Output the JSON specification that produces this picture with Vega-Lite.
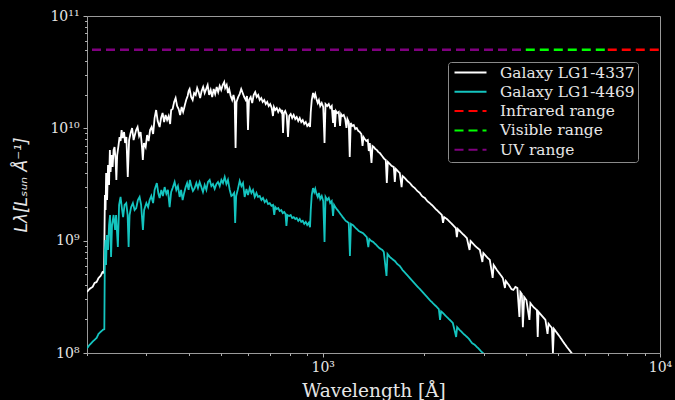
{
  "$schema": "https://vega.github.io/schema/vega-lite/v6.json",
  "width": 573,
  "height": 337,
  "autosize": {"type": "none"},
  "padding": {"left": 87, "top": 16, "right": 15, "bottom": 47},
  "background": "#000000",
  "datasets": {
    "g4337": [
      {"w":200,"L":3.49e8},{"w":203.5,"L":3.72e8},{"w":207.8,"L":3.87e8},{"w":210.6,"L":4.20e8},{"w":213.5,"L":4.28e8},{"w":216.4,"L":4.65e8},{"w":219.4,"L":4.85e8},{"w":222.4,"L":5.26e8},{"w":224.7,"L":5.16e8},{"w":226.0,"L":2.55e9},{"w":227.0,"L":1.875e9},{"w":227.9,"L":4.00e9},{"w":229.4,"L":2.30e9},{"w":230.9,"L":4.72e9},{"w":232.5,"L":3.13e9},{"w":233.8,"L":6.41e9},{"w":234.9,"L":4.09e9},{"w":236.5,"L":5.79e9},{"w":238.2,"L":4.53e9},{"w":239.8,"L":6.41e9},{"w":241.4,"L":6.82e9},{"w":243.1,"L":5.23e9},{"w":244.4,"L":3.47e9},{"w":245.8,"L":5.79e9},{"w":248.1,"L":7.11e9},{"w":249.8,"L":8.37e9},{"w":251.5,"L":7.71e9},{"w":253.3,"L":9.66e9},{"w":255.0,"L":8.20e9},{"w":257.6,"L":9.27e9},{"w":259.4,"L":7.41e9},{"w":261.7,"L":8.37e9},{"w":264.2,"L":3.69e9},{"w":266.6,"L":7.87e9},{"w":269.4,"L":9.09e9},{"w":272.1,"L":1.007e10},{"w":274.9,"L":7.87e9},{"w":276.8,"L":8.54e9},{"w":279.7,"L":9.66e9},{"w":282.5,"L":1.027e10},{"w":285.4,"L":8.54e9},{"w":288.4,"L":9.28e9},{"w":290.8,"L":7.11e9},{"w":292.8,"L":5.23e9},{"w":295.0,"L":7.40e9},{"w":298.5,"L":6.82e9},{"w":301.5,"L":8.72e9},{"w":304.6,"L":7.71e9},{"w":307.7,"L":9.66e9},{"w":310.9,"L":1.028e10},{"w":314.1,"L":8.90e9},{"w":317.3,"L":1.236e10},{"w":320.6,"L":1.456e10},{"w":324.0,"L":1.162e10},{"w":328.4,"L":1.028e10},{"w":331.7,"L":1.236e10},{"w":335.1,"L":1.369e10},{"w":338.6,"L":1.138e10},{"w":342.1,"L":1.314e10},{"w":345.6,"L":1.186e10},{"w":349.2,"L":1.287e10},{"w":352.8,"L":1.093e10},{"w":355.3,"L":1.456e10},{"w":358.9,"L":1.486e10},{"w":362.5,"L":1.713e10},{"w":366.3,"L":1.862e10},{"w":370.0,"L":1.580e10},{"w":373.9,"L":1.486e10},{"w":377.7,"L":1.314e10},{"w":381.6,"L":1.548e10},{"w":385.5,"L":1.399e10},{"w":389.5,"L":1.580e10},{"w":393.6,"L":1.788e10},{"w":397.6,"L":1.941e10},{"w":400.3,"L":2.149e10},{"w":403.0,"L":2.240e10},{"w":407.2,"L":1.900e10},{"w":411.4,"L":1.788e10},{"w":415.6,"L":2.063e10},{"w":420.0,"L":1.981e10},{"w":424.3,"L":2.286e10},{"w":428.6,"L":2.102e10},{"w":433.0,"L":1.862e10},{"w":437.5,"L":2.149e10},{"w":442.0,"L":2.333e10},{"w":446.6,"L":2.063e10},{"w":451.2,"L":2.240e10},{"w":455.8,"L":2.431e10},{"w":460.5,"L":1.981e10},{"w":465.3,"L":2.194e10},{"w":470.1,"L":1.900e10},{"w":474.9,"L":2.240e10},{"w":479.8,"L":2.022e10},{"w":484.8,"L":2.333e10},{"w":489.8,"L":2.102e10},{"w":494.9,"L":2.381e10},{"w":500.0,"L":2.194e10},{"w":505.1,"L":2.431e10},{"w":510.3,"L":2.585e10},{"w":513.8,"L":2.286e10},{"w":519.0,"L":2.431e10},{"w":523.6,"L":2.063e10},{"w":528.0,"L":2.240e10},{"w":533.4,"L":1.941e10},{"w":538.9,"L":1.788e10},{"w":543.7,"L":1.981e10},{"w":548.2,"L":1.752e10},{"w":551.5,"L":6.68e9},{"w":555.0,"L":1.716e10},{"w":561.5,"L":1.900e10},{"w":567.3,"L":2.022e10},{"w":573.1,"L":2.240e10},{"w":579.0,"L":2.063e10},{"w":584.9,"L":1.900e10},{"w":591.0,"L":1.788e10},{"w":596.2,"L":1.941e10},{"w":600.3,"L":9.66e9},{"w":604.5,"L":1.788e10},{"w":611.5,"L":1.900e10},{"w":617.8,"L":1.681e10},{"w":624.2,"L":1.981e10},{"w":630.6,"L":2.102e10},{"w":637.2,"L":1.900e10},{"w":643.7,"L":1.981e10},{"w":650.4,"L":1.788e10},{"w":657.1,"L":1.862e10},{"w":663.8,"L":1.716e10},{"w":670.7,"L":1.788e10},{"w":677.7,"L":1.646e10},{"w":684.6,"L":1.716e10},{"w":691.7,"L":1.580e10},{"w":698.6,"L":1.646e10},{"w":706.0,"L":1.517e10},{"w":711.7,"L":1.287e10},{"w":716.6,"L":1.548e10},{"w":723.1,"L":1.456e10},{"w":730.5,"L":1.517e10},{"w":738.0,"L":1.399e10},{"w":745.5,"L":1.486e10},{"w":753.3,"L":1.399e10},{"w":758.4,"L":1.456e10},{"w":762.6,"L":9.09e9},{"w":767.3,"L":1.369e10},{"w":774.0,"L":1.427e10},{"w":782.0,"L":1.314e10},{"w":788.9,"L":8.37e9},{"w":795.4,"L":1.287e10},{"w":803.5,"L":1.341e10},{"w":811.8,"L":1.236e10},{"w":820.1,"L":1.314e10},{"w":828.8,"L":1.210e10},{"w":837.2,"L":1.261e10},{"w":846.0,"L":1.162e10},{"w":854.7,"L":1.236e10},{"w":863.5,"L":1.138e10},{"w":872.3,"L":1.186e10},{"w":881.4,"L":1.093e10},{"w":890.5,"L":1.138e10},{"w":899.5,"L":1.049e10},{"w":908.8,"L":1.093e10},{"w":916.9,"L":1.028e10},{"w":921.5,"L":1.399e10},{"w":927.8,"L":1.788e10},{"w":936.0,"L":2.063e10},{"w":943.8,"L":1.900e10},{"w":950.2,"L":2.022e10},{"w":958.0,"L":1.825e10},{"w":966.5,"L":1.681e10},{"w":974.3,"L":1.788e10},{"w":983.1,"L":1.580e10},{"w":993.1,"L":1.681e10},{"w":1003.4,"L":1.548e10},{"w":1012.3,"L":7.40e9},{"w":1019.3,"L":1.646e10},{"w":1031.3,"L":1.580e10},{"w":1042.0,"L":1.646e10},{"w":1052.6,"L":1.517e10},{"w":1063.4,"L":1.580e10},{"w":1073.0,"L":1.116e10},{"w":1080.2,"L":1.456e10},{"w":1087.0,"L":1.028e10},{"w":1094.5,"L":1.427e10},{"w":1104.1,"L":1.369e10},{"w":1115.5,"L":1.399e10},{"w":1125.4,"L":1.049e10},{"w":1133.1,"L":1.341e10},{"w":1142.5,"L":1.287e10},{"w":1154.2,"L":1.314e10},{"w":1166.1,"L":1.210e10},{"w":1175.6,"L":1.007e10},{"w":1183.7,"L":1.210e10},{"w":1194.3,"L":1.138e10},{"w":1202.4,"L":5.56e9},{"w":1210.7,"L":1.116e10},{"w":1223.2,"L":1.049e10},{"w":1235.8,"L":1.070e10},{"w":1248.6,"L":9.86e9},{"w":1261.5,"L":1.007e10},{"w":1274.4,"L":9.47e9},{"w":1287.9,"L":9.28e9},{"w":1301.3,"L":8.90e9},{"w":1312.2,"L":6.96e9},{"w":1321.0,"L":8.37e9},{"w":1332.8,"L":8.03e9},{"w":1346.5,"L":7.71e9},{"w":1360.3,"L":7.87e9},{"w":1369.6,"L":6.28e9},{"w":1379.1,"L":7.40e9},{"w":1395.0,"L":4.91e9},{"w":1404.7,"L":6.96e9},{"w":1417.1,"L":6.82e9},{"w":1431.7,"L":6.55e9},{"w":1446.6,"L":6.41e9},{"w":1461.6,"L":6.16e9},{"w":1476.7,"L":6.03e9},{"w":1491.9,"L":5.79e9},{"w":1507.2,"L":5.56e9},{"w":1522.5,"L":5.34e9},{"w":1537.9,"L":5.23e9},{"w":1548.7,"L":3.26e9},{"w":1559.3,"L":5.02e9},{"w":1580.7,"L":4.82e9},{"w":1602.4,"L":4.62e9},{"w":1624.5,"L":4.53e9},{"w":1635.7,"L":3.33e9},{"w":1646.8,"L":4.35e9},{"w":1669.5,"L":4.17e9},{"w":1692.5,"L":4.00e9},{"w":1713.2,"L":3.00e9},{"w":1725.3,"L":3.76e9},{"w":1751.2,"L":3.61e9},{"w":1781.3,"L":3.40e9},{"w":1812.5,"L":3.26e9},{"w":1843.4,"L":3.06e9},{"w":1875.0,"L":2.94e9},{"w":1907.3,"L":2.77e9},{"w":1940.5,"L":2.66e9},{"w":1966.9,"L":2.50e9},{"w":2008.1,"L":2.40e9},{"w":2042.3,"L":2.25e9},{"w":2077.7,"L":2.16e9},{"w":2120.4,"L":2.04e9},{"w":2164.2,"L":1.91e9},{"w":2209.2,"L":1.80e9},{"w":2254.8,"L":1.692e9},{"w":2273.6,"L":1.44e9},{"w":2290.3,"L":1.62e9},{"w":2333.4,"L":1.56e9},{"w":2381.4,"L":1.47e9},{"w":2430.8,"L":1.379e9},{"w":2481.3,"L":1.296e9},{"w":2498.2,"L":1.077e9},{"w":2515.4,"L":1.270e9},{"w":2567.4,"L":1.192e9},{"w":2620.5,"L":1.123e9},{"w":2674.8,"L":1.056e9},{"w":2724.6,"L":8.26e8},{"w":2743.2,"L":9.94e8},{"w":2796.1,"L":9.34e8},{"w":2854.0,"L":8.78e8},{"w":2923.7,"L":8.26e8},{"w":2973.7,"L":6.46e8},{"w":2994.3,"L":7.76e8},{"w":3066.2,"L":7.16e8},{"w":3129.6,"L":6.73e8},{"w":3190.6,"L":4.66e8},{"w":3212.7,"L":6.07e8},{"w":3283.7,"L":5.48e8},{"w":3351.8,"L":5.05e8},{"w":3420.0,"L":4.65e8},{"w":3468.5,"L":3.79e8},{"w":3491.5,"L":4.37e8},{"w":3564.1,"L":4.03e8},{"w":3625.7,"L":3.71e8},{"w":3675.3,"L":3.64e8},{"w":3726.1,"L":3.87e8},{"w":3777.4,"L":3.79e8},{"w":3829.3,"L":2.09e8},{"w":3854.6,"L":3.49e8},{"w":3894.7,"L":3.35e8},{"w":3921.3,"L":1.70e8},{"w":3956.1,"L":3.15e8},{"w":4016.6,"L":2.96e8},{"w":4100.1,"L":1.97e8},{"w":4128.1,"L":2.78e8},{"w":4213.3,"L":2.57e8},{"w":4315.5,"L":2.41e8},{"w":4339.4,"L":1.39e8},{"w":4363.5,"L":2.32e8},{"w":4466.3,"L":2.14e8},{"w":4574.2,"L":1.97e8},{"w":4640.1,"L":1.48e8},{"w":4672.2,"L":1.82e8},{"w":4781.2,"L":1.67e8},{"w":4814.1,"L":1.0e8},{"w":4847.5,"L":1.64e8},{"w":4947.9,"L":1.51e8},{"w":5050.8,"L":1.39e8},{"w":5172.0,"L":1.25e8},{"w":5297.2,"L":1.13e8},{"w":5469,"L":1.0e8},{"w":5555,"L":9.4e7}
    ],
    "g4469": [
      {"w":200,"L":1.104e8},{"w":203.5,"L":1.18e8},{"w":207.8,"L":1.26e8},{"w":210.6,"L":1.31e8},{"w":213.5,"L":1.36e8},{"w":216.4,"L":1.48e8},{"w":219.4,"L":1.54e8},{"w":222.4,"L":1.60e8},{"w":225.1,"L":1.63e8},{"w":226.0,"L":8.26e8},{"w":226.8,"L":1.014e9},{"w":227.8,"L":6.07e8},{"w":229.1,"L":1.123e9},{"w":230.9,"L":8.26e8},{"w":232.5,"L":1.379e9},{"w":234.1,"L":1.692e9},{"w":235.7,"L":7.16e8},{"w":237.3,"L":1.379e9},{"w":239.8,"L":1.692e9},{"w":242.3,"L":1.244e9},{"w":243.9,"L":1.692e9},{"w":246.9,"L":8.78e8},{"w":249.0,"L":2.08e9},{"w":251.5,"L":2.45e9},{"w":254.2,"L":1.875e9},{"w":255.9,"L":1.62e9},{"w":258.5,"L":2.08e9},{"w":261.5,"L":2.16e9},{"w":263.9,"L":1.692e9},{"w":265.7,"L":8.78e8},{"w":267.5,"L":1.692e9},{"w":270.3,"L":1.99e9},{"w":273.6,"L":2.16e9},{"w":276.8,"L":1.875e9},{"w":279.9,"L":1.95e9},{"w":283.1,"L":2.30e9},{"w":286.4,"L":2.45e9},{"w":289.4,"L":2.08e9},{"w":293.0,"L":1.244e9},{"w":295.4,"L":1.875e9},{"w":299.9,"L":2.16e9},{"w":303.6,"L":1.99e9},{"w":306.7,"L":2.30e9},{"w":310.2,"L":2.50e9},{"w":314.1,"L":2.16e9},{"w":317.3,"L":2.83e9},{"w":322.1,"L":3.26e9},{"w":325.7,"L":2.61e9},{"w":328.4,"L":2.40e9},{"w":332.2,"L":2.83e9},{"w":335.8,"L":2.50e9},{"w":339.8,"L":3.00e9},{"w":343.8,"L":2.61e9},{"w":347.5,"L":2.83e9},{"w":351.6,"L":1.99e9},{"w":355.3,"L":2.71e9},{"w":358.9,"L":2.94e9},{"w":363.8,"L":3.33e9},{"w":368.0,"L":2.83e9},{"w":372.1,"L":3.06e9},{"w":376.5,"L":2.45e9},{"w":380.3,"L":2.83e9},{"w":384.2,"L":2.30e9},{"w":388.2,"L":2.66e9},{"w":392.2,"L":3.00e9},{"w":396.2,"L":3.26e9},{"w":400.3,"L":2.83e9},{"w":403.8,"L":3.47e9},{"w":407.7,"L":3.06e9},{"w":412.2,"L":2.77e9},{"w":417.1,"L":2.94e9},{"w":422.0,"L":3.26e9},{"w":426.6,"L":2.94e9},{"w":431.5,"L":3.33e9},{"w":436.6,"L":3.00e9},{"w":441.4,"L":2.71e9},{"w":446.6,"L":3.13e9},{"w":451.8,"L":2.83e9},{"w":456.7,"L":3.33e9},{"w":462.1,"L":3.47e9},{"w":467.5,"L":3.06e9},{"w":472.6,"L":3.19e9},{"w":478.2,"L":2.89e9},{"w":483.8,"L":3.19e9},{"w":489.2,"L":3.33e9},{"w":494.9,"L":3.06e9},{"w":500.6,"L":3.47e9},{"w":506.1,"L":3.26e9},{"w":512.1,"L":3.69e9},{"w":518.0,"L":3.19e9},{"w":523.6,"L":3.47e9},{"w":529.9,"L":2.83e9},{"w":535.8,"L":2.50e9},{"w":540.7,"L":2.55e9},{"w":546.3,"L":2.66e9},{"w":550.0,"L":1.44e9},{"w":553.8,"L":2.50e9},{"w":559.6,"L":2.83e9},{"w":567.3,"L":3.40e9},{"w":574.0,"L":3.06e9},{"w":580.2,"L":3.26e9},{"w":586.9,"L":2.45e9},{"w":594.0,"L":2.89e9},{"w":600.4,"L":2.55e9},{"w":607.4,"L":2.94e9},{"w":614.4,"L":2.66e9},{"w":621.2,"L":2.83e9},{"w":628.5,"L":2.45e9},{"w":635.9,"L":2.66e9},{"w":642.8,"L":2.45e9},{"w":650.4,"L":2.50e9},{"w":657.9,"L":2.30e9},{"w":665.2,"L":2.40e9},{"w":673.0,"L":2.20e9},{"w":680.9,"L":2.30e9},{"w":688.3,"L":2.12e9},{"w":696.2,"L":2.16e9},{"w":704.5,"L":2.04e9},{"w":712.2,"L":2.08e9},{"w":718.1,"L":1.692e9},{"w":723.1,"L":1.99e9},{"w":730.5,"L":1.91e9},{"w":738.0,"L":1.95e9},{"w":745.5,"L":1.84e9},{"w":753.3,"L":1.875e9},{"w":760.9,"L":1.76e9},{"w":768.7,"L":1.80e9},{"w":775.5,"L":1.73e9},{"w":780.3,"L":1.35e9},{"w":785.7,"L":1.692e9},{"w":795.4,"L":1.66e9},{"w":803.5,"L":1.692e9},{"w":811.8,"L":1.59e9},{"w":820.1,"L":1.62e9},{"w":828.8,"L":1.56e9},{"w":837.2,"L":1.59e9},{"w":846.0,"L":1.50e9},{"w":854.7,"L":1.56e9},{"w":863.5,"L":1.47e9},{"w":872.3,"L":1.50e9},{"w":881.4,"L":1.41e9},{"w":890.5,"L":1.47e9},{"w":899.5,"L":1.379e9},{"w":908.8,"L":1.44e9},{"w":916.9,"L":1.32e9},{"w":921.5,"L":1.875e9},{"w":927.8,"L":2.55e9},{"w":936.0,"L":2.94e9},{"w":943.8,"L":2.71e9},{"w":950.2,"L":2.89e9},{"w":958.0,"L":2.61e9},{"w":966.5,"L":2.45e9},{"w":974.3,"L":2.66e9},{"w":983.1,"L":2.35e9},{"w":993.1,"L":2.50e9},{"w":1003.4,"L":2.25e9},{"w":1012.3,"L":9.73e8},{"w":1019.3,"L":2.45e9},{"w":1031.3,"L":2.30e9},{"w":1042.0,"L":2.40e9},{"w":1052.6,"L":2.16e9},{"w":1063.4,"L":2.25e9},{"w":1073.0,"L":1.66e9},{"w":1080.2,"L":2.08e9},{"w":1089.0,"L":1.99e9},{"w":1100.3,"L":1.91e9},{"w":1111.7,"L":1.84e9},{"w":1123.0,"L":1.76e9},{"w":1134.6,"L":1.692e9},{"w":1146.3,"L":1.62e9},{"w":1158.1,"L":1.56e9},{"w":1170.0,"L":1.50e9},{"w":1182.0,"L":1.47e9},{"w":1194.3,"L":1.44e9},{"w":1204.0,"L":7.31e8},{"w":1212.4,"L":1.41e9},{"w":1227.4,"L":1.379e9},{"w":1244.4,"L":1.32e9},{"w":1261.5,"L":1.27e9},{"w":1279.0,"L":1.22e9},{"w":1296.8,"L":1.192e9},{"w":1314.6,"L":1.17e9},{"w":1332.8,"L":1.123e9},{"w":1351.1,"L":1.077e9},{"w":1365.0,"L":8.78e8},{"w":1374.4,"L":1.034e9},{"w":1393.2,"L":9.94e8},{"w":1412.4,"L":9.73e8},{"w":1431.7,"L":9.34e8},{"w":1451.5,"L":8.96e8},{"w":1471.6,"L":8.60e8},{"w":1486.6,"L":8.43e8},{"w":1502.1,"L":8.26e8},{"w":1517.3,"L":7.93e8},{"w":1545.5,"L":4.85e8},{"w":1556.0,"L":7.61e8},{"w":1580.7,"L":7.16e8},{"w":1608.0,"L":6.86e8},{"w":1635.7,"L":6.59e8},{"w":1663.8,"L":6.20e8},{"w":1692.5,"L":5.95e8},{"w":1727.7,"L":5.44e8},{"w":1763.4,"L":5.09e8},{"w":1799.7,"L":4.76e8},{"w":1836.9,"L":4.44e8},{"w":1875.0,"L":4.15e8},{"w":1913.5,"L":3.88e8},{"w":1953.5,"L":3.63e8},{"w":1994.0,"L":3.39e8},{"w":2035.0,"L":3.17e8},{"w":2077.7,"L":2.96e8},{"w":2120.4,"L":2.78e8},{"w":2164.2,"L":2.62e8},{"w":2209.2,"L":2.46e8},{"w":2227.4,"L":1.97e8},{"w":2244.0,"L":2.35e8},{"w":2286.1,"L":2.23e8},{"w":2333.4,"L":2.09e8},{"w":2381.4,"L":1.97e8},{"w":2430.8,"L":1.85e8},{"w":2486.4,"L":1.39e8},{"w":2503.4,"L":1.70e8},{"w":2549.6,"L":1.60e8},{"w":2602.6,"L":1.50e8},{"w":2656.5,"L":1.42e8},{"w":2711.5,"L":1.34e8},{"w":2767.6,"L":1.23e8},{"w":2824.8,"L":1.18e8},{"w":2884.0,"L":1.11e8},{"w":2943.7,"L":1.04e8},{"w":3004.5,"L":9.8e7}
    ],
    "uv": [{"w":200,"L":5e10},{"w":4000,"L":5e10}],
    "vis": [{"w":4000,"L":5e10},{"w":7000,"L":5e10}],
    "ir": [{"w":7000,"L":5e10},{"w":10000,"L":5e10}]
  },
  "encoding": {
    "x": {
      "field": "w", "type": "quantitative",
      "scale": {"type": "log", "domain": [200, 10000], "nice": false, "zero": false},
      "axis": {
        "title": "Wavelength [Å]",
        "values": [200,300,400,500,600,700,800,900,1000,2000,3000,4000,5000,6000,7000,8000,9000,10000],
        "labelExpr": "datum.value == 1000 ? '10³' : datum.value == 10000 ? '10⁴' : ''",
        "tickSize": {"condition": {"test": "datum.value == 1000 || datum.value == 10000", "value": 4}, "value": 2.5},
        "labelPadding": 3,
        "titlePadding": 7
      }
    },
    "y": {
      "field": "L", "type": "quantitative",
      "scale": {"type": "log", "domain": [1e8, 1e11], "nice": false, "zero": false},
      "axis": {
        "title": "Lλ[Lₛᵤₙ Å⁻¹]",
        "titleFont": "DejaVu Sans",
        "titleFontStyle": "italic",
        "titleFontSize": 17,
        "values": [1e8,2e8,3e8,4e8,5e8,6e8,7e8,8e8,9e8,1e9,2e9,3e9,4e9,5e9,6e9,7e9,8e9,9e9,1e10,2e10,3e10,4e10,5e10,6e10,7e10,8e10,9e10,1e11],
        "labelExpr": "datum.value == 1e8 ? '10⁸' : datum.value == 1e9 ? '10⁹' : datum.value == 1e10 ? '10¹⁰' : datum.value == 1e11 ? '10¹¹' : ''",
        "tickSize": {"condition": {"test": "datum.value == 1e8 || datum.value == 1e9 || datum.value == 1e10 || datum.value == 1e11", "value": 4}, "value": 2.5},
        "labelPadding": 4,
        "titlePadding": 19
      }
    },
    "color": {
      "datum": "Galaxy LG1-4337", "type": "nominal",
      "scale": {
        "domain": ["Galaxy LG1-4337", "Galaxy LG1-4469", "Infrared range", "Visible range", "UV range"],
        "range": ["#ffffff", "#14c4bf", "#ff0000", "#00ff00", "#800080"]
      },
      "legend": {"title": null}
    },
    "strokeDash": {
      "datum": "Galaxy LG1-4337", "type": "nominal",
      "scale": {
        "domain": ["Galaxy LG1-4337", "Galaxy LG1-4469", "Infrared range", "Visible range", "UV range"],
        "range": [[1, 0], [1, 0], [9, 5], [9, 5], [9, 5]]
      },
      "legend": {"title": null}
    }
  },
  "layer": [
    {
      "data": {"name": "g4337"},
      "mark": {"type": "line", "strokeWidth": 1.8, "clip": true}
    },
    {
      "data": {"name": "g4469"},
      "mark": {"type": "line", "strokeWidth": 1.8, "clip": true},
      "encoding": {
        "color": {"datum": "Galaxy LG1-4469", "type": "nominal"},
        "strokeDash": {"datum": "Galaxy LG1-4469", "type": "nominal"}
      }
    },
    {
      "data": {"name": "uv"},
      "mark": {"type": "line", "strokeWidth": 2.5, "clip": true, "strokeDashOffset": -5},
      "encoding": {
        "color": {"datum": "UV range", "type": "nominal"},
        "strokeDash": {"datum": "UV range", "type": "nominal"}
      }
    },
    {
      "data": {"name": "vis"},
      "mark": {"type": "line", "strokeWidth": 2.5, "clip": true},
      "encoding": {
        "color": {"datum": "Visible range", "type": "nominal"},
        "strokeDash": {"datum": "Visible range", "type": "nominal"}
      }
    },
    {
      "data": {"name": "ir"},
      "mark": {"type": "line", "strokeWidth": 2.5, "clip": true},
      "encoding": {
        "color": {"datum": "Infrared range", "type": "nominal"},
        "strokeDash": {"datum": "Infrared range", "type": "nominal"}
      }
    }
  ],
  "config": {
    "view": {"stroke": "#9a9a9a", "strokeWidth": 1},
    "axis": {
      "domain": false,
      "grid": false,
      "tickColor": "#b0b0b0",
      "tickWidth": 1,
      "labelColor": "#e6e6e6",
      "labelFont": "DejaVu Serif",
      "labelFontSize": 14,
      "labelOverlap": false,
      "labelFlush": false,
      "labelBound": false,
      "titleColor": "#e6e6e6",
      "titleFont": "DejaVu Serif",
      "titleFontSize": 18.5,
      "titleFontWeight": "normal"
    },
    "legend": {
      "orient": "none",
      "legendX": 361,
      "legendY": 46,
      "symbolType": "stroke",
      "symbolSize": 1024,
      "symbolStrokeWidth": 2,
      "symbolOffset": 2.5,
      "clipHeight": 15,
      "labelFont": "DejaVu Serif",
      "labelFontSize": 15.4,
      "labelColor": "#e6e6e6",
      "labelOffset": 12.5,
      "labelLimit": 0,
      "strokeColor": "#8a8a8a",
      "fillColor": "#000000",
      "cornerRadius": 3,
      "padding": 3,
      "rowPadding": 3.3
    }
  }
}
